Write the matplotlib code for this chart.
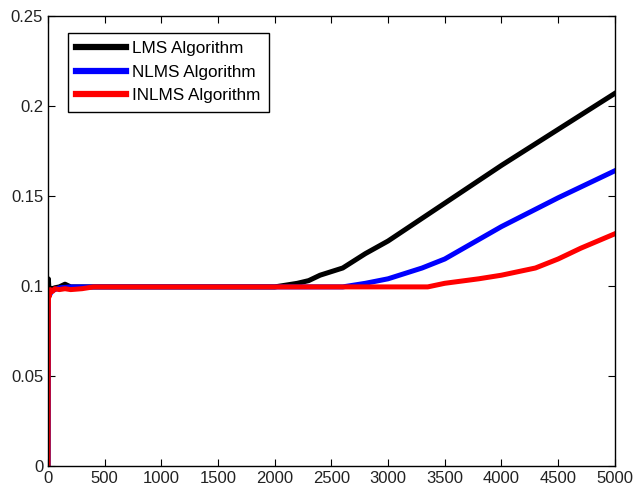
import matplotlib.pyplot as plt

plt.rcParams['font.family'] = ['Liberation Sans', 'DejaVu Sans']

# LMS curve
lms_x = [0, 3, 8, 15, 30, 60, 100, 150, 200, 400, 1000, 2000, 2100, 2200, 2300, 2400, 2500, 2600, 2700, 2800,
         3000, 3500, 4000, 4500, 5000]
lms_y = [0.0, 0.104, 0.099, 0.097, 0.098, 0.099, 0.0995, 0.101, 0.0995, 0.0995, 0.0995, 0.0995, 0.1005, 0.1015,
         0.103, 0.106, 0.108, 0.110, 0.114, 0.118, 0.125, 0.146, 0.167, 0.187, 0.207]

# NLMS curve
nlms_x = [0, 3, 8, 15, 30, 60, 100, 200, 400, 1000, 2000, 2600, 2800, 3000, 3200, 3300, 3500, 4000, 4500, 5000]
nlms_y = [0.0, 0.094, 0.096, 0.095, 0.097, 0.098, 0.099, 0.0995, 0.0995, 0.0995, 0.0995, 0.0995, 0.1015,
          0.104, 0.108, 0.110, 0.115, 0.133, 0.149, 0.164]

# INLMS curve
inlms_x = [0, 3, 6, 10, 20, 40, 60, 100, 150, 200, 300, 350, 400, 1000, 2000, 3000, 3350, 3500, 3800, 4000,
           4300, 4500, 4700, 5000]
inlms_y = [0.0, 0.088, 0.097, 0.094, 0.098, 0.097, 0.0985, 0.098, 0.0985, 0.098, 0.0985, 0.099, 0.0995, 0.0995,
           0.0995, 0.0995, 0.0995, 0.1015, 0.104, 0.106, 0.110, 0.115, 0.121, 0.129]

x_ticks = [0, 500, 1000, 1500, 2000, 2500, 3000, 3500, 4000, 4500, 5000]
y_ticks = [0, 0.05, 0.1, 0.15, 0.2, 0.25]
y_labels = ['0', '0.05', '0.1', '0.15', '0.2', '0.25']

fig = plt.figure(figsize=(6.34, 4.93), dpi=100)
ax = fig.add_axes([0.0757, 0.0548, 0.894, 0.9127])

ax.plot(lms_x, lms_y, color='black', linewidth=3.6, label='LMS Algorithm')
ax.plot(nlms_x, nlms_y, color='#0000ff', linewidth=3.6, label='NLMS Algorithm')
ax.plot(inlms_x, inlms_y, color='#ff0000', linewidth=3.6, label='INLMS Algorithm')

ax.set_xlim(0, 5000)
ax.set_ylim(0, 0.25)
ax.set_xticks(x_ticks)
ax.set_yticks(y_ticks)
ax.set_yticklabels(y_labels)
ax.tick_params(direction='in', top=True, right=True, length=5, labelsize=12, labelcolor='#222222')
for s in ax.spines.values():
    s.set_linewidth(1.0)

leg = ax.legend(loc='upper left', bbox_to_anchor=(0.035, 0.963), fontsize=12.3, handlelength=2.9,
                handletextpad=0.35, borderpad=0.5, borderaxespad=0, labelspacing=0.5, fancybox=False,
                framealpha=1)
leg.get_frame().set_edgecolor('black')
leg.get_frame().set_linewidth(1.0)
for line in leg.get_lines():
    line.set_linewidth(4.5)

plt.savefig('out.png', dpi=100)
